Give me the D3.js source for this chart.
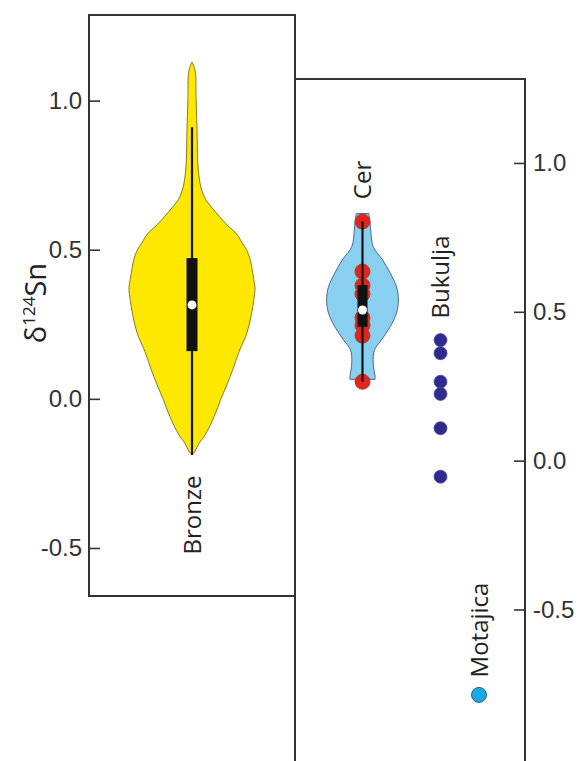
<!DOCTYPE html>
<html>
<head>
<meta charset="utf-8">
<script src="https://cdn.jsdelivr.net/npm/d3@7"></script>
<style>
  html, body { margin: 0; padding: 0; background: #ffffff; }
  svg { display: block; }
</style>
</head>
<body>
<svg id="chart" width="581" height="761"></svg>
<script>
// ---------------- DATA ----------------
const leftCategories = ["Bronze"];
const rightCategories = ["Cer", "Bukulja", "Motajica"];
const tickValues = [-0.5, 0.0, 0.5, 1.0];
const tickLabels = ["-0.5", "0.0", "0.5", "1.0"];
const axisLabel = "δ";

// violin density profiles: [δ124Sn value, relative density]
const bronzeViolin = [
  [1.13, 0], [1.10, 0.05], [1.00, 0.065], [0.90, 0.08], [0.78, 0.095], [0.72, 0.13],
  [0.69, 0.17], [0.667, 0.22], [0.64, 0.32], [0.61, 0.44], [0.58, 0.57], [0.555, 0.70],
  [0.525, 0.79], [0.498, 0.87], [0.47, 0.92], [0.44, 0.95], [0.40, 0.98], [0.374, 1.0],
  [0.33, 0.98], [0.28, 0.94], [0.22, 0.87], [0.16, 0.75], [0.10, 0.65], [0.05, 0.56],
  [0.0, 0.46], [-0.06, 0.35], [-0.12, 0.21], [-0.15, 0.11], [-0.175, 0.05], [-0.188, 0]
];
const cerViolin = [
  [0.83, 0.10], [0.80, 0.12], [0.775, 0.13], [0.719, 0.17], [0.674, 0.32], [0.63, 0.44],
  [0.584, 0.54], [0.54, 0.57], [0.496, 0.54], [0.45, 0.44], [0.405, 0.30], [0.372, 0.19],
  [0.328, 0.17], [0.282, 0.20], [0.273, 0.20]
];

// box statistics: [whiskerLow, q1, median, q3, whiskerHigh]
const bronzeBox = [-0.188, 0.160, 0.315, 0.472, 0.911];
const cerBox = [0.265, 0.450, 0.506, 0.590, 0.803];

// individual samples
const cerValues = [0.803, 0.635, 0.588, 0.560, 0.480, 0.455, 0.420, 0.265];
const bukuljaValues = [0.405, 0.361, 0.265, 0.224, 0.109, -0.054];
const motajicaValues = [-0.787];

// ---------------- LAYOUT ----------------
const svg = d3.select("#chart");
svg.append("rect").attr("width", 581).attr("height", 761).attr("fill", "#fff");

const frameColor = "#333";
const L = { left: 89, right: 295, top: 15, bottom: 596 };
const R = { left: 295, right: 525, top: 79, bottom: 761 };

const yL = d3.scaleLinear().domain([-0.661, 1.287]).range([L.bottom, L.top]);
const yR = d3.scaleLinear().domain([-1.009, 1.282]).range([R.bottom, R.top]);

const xL = d3.scalePoint().domain(leftCategories).range([L.left, L.right]).padding(0.5);
const xR = d3.scaleOrdinal().domain(rightCategories).range([362.5, 440.5, 479]);

const wScale = d3.scaleLinear().domain([0, 1]).range([0, 63]);

const tickFont = "'Liberation Sans', Arial, sans-serif";
const labelFont = "'Open Sans', 'DejaVu Sans', sans-serif";
const fmt = d => tickLabels[tickValues.indexOf(d)];

// ---- right panel frame (drawn first, left panel overlaps) ----
svg.append("path")
  .attr("d", `M${R.left},${R.bottom}V${R.top}H${R.right}V${R.bottom}`)
  .attr("fill", "none").attr("stroke", frameColor).attr("stroke-width", 2);

// ---- left panel frame ----
svg.append("rect")
  .attr("x", L.left).attr("y", L.top)
  .attr("width", L.right - L.left).attr("height", L.bottom - L.top)
  .attr("fill", "none").attr("stroke", frameColor).attr("stroke-width", 2);

// ---- axes ----
const axL = svg.append("g").attr("transform", `translate(${L.left},0)`)
  .call(d3.axisLeft(yL).tickValues(tickValues).tickFormat(fmt)
    .tickSizeInner(-11).tickSizeOuter(0).tickPadding(7));
axL.select(".domain").remove();
axL.selectAll("line").attr("stroke", frameColor).attr("stroke-width", 1.6);
axL.selectAll("text").style("font-family", tickFont).style("font-size", "24px").attr("fill", "#333");

const axR = svg.append("g").attr("transform", `translate(${R.right},0)`)
  .call(d3.axisRight(yR).tickValues(tickValues).tickFormat(fmt)
    .tickSizeInner(-11).tickSizeOuter(0).tickPadding(8));
axR.select(".domain").remove();
axR.selectAll("line").attr("stroke", frameColor).attr("stroke-width", 1.6);
axR.selectAll("text").style("font-family", tickFont).style("font-size", "24px").attr("fill", "#333");

// ---- y axis title ----
const title = svg.append("text")
  .attr("transform", `translate(46,303) rotate(-90)`)
  .attr("text-anchor", "middle")
  .style("font-family", labelFont).style("font-size", "29px").attr("fill", "#222");
title.append("tspan").text(axisLabel);
title.append("tspan").style("font-size", "17px").attr("dy", -11).text("124");
title.append("tspan").attr("dy", 11).text("Sn");

// ---- violin helper ----
function violin(profile, cx, y, fill, stroke) {
  const area = d3.area()
    .y(d => y(d[0]))
    .x0(d => cx - wScale(d[1]))
    .x1(d => cx + wScale(d[1]))
    .curve(d3.curveCatmullRom);
  svg.append("path").datum(profile).attr("d", area)
    .attr("fill", fill).attr("stroke", stroke).attr("stroke-width", 1);
}
function boxplot(stats, cx, y, boxW) {
  svg.append("line")
    .attr("x1", cx).attr("x2", cx)
    .attr("y1", y(stats[0])).attr("y2", y(stats[4]))
    .attr("stroke", "#111").attr("stroke-width", 2.2);
  svg.append("rect")
    .attr("x", cx - boxW / 2).attr("width", boxW)
    .attr("y", y(stats[3])).attr("height", y(stats[1]) - y(stats[3]))
    .attr("fill", "#111");
  svg.append("circle").attr("cx", cx).attr("cy", y(stats[2])).attr("r", 4.5)
    .attr("fill", "#fff");
}

// ---- Bronze ----
const bx = xL("Bronze");
violin(bronzeViolin, bx, yL, "#ffe800", "#857a25");
boxplot(bronzeBox, bx, yL, 11);

// ---- Cer ----
const cx = xR("Cer");
violin(cerViolin, cx, yR, "#88cff0", "#4d6b84");
svg.append("g").selectAll("circle").data(cerValues).join("circle")
  .attr("cx", cx).attr("cy", d => yR(d)).attr("r", 7.5)
  .attr("fill", "#e3241c").attr("stroke", "#a0452f").attr("stroke-width", 1);
boxplot(cerBox, cx, yR, 10);

// ---- Bukulja ----
svg.append("g").selectAll("circle").data(bukuljaValues).join("circle")
  .attr("cx", xR("Bukulja")).attr("cy", d => yR(d)).attr("r", 6.5)
  .attr("fill", "#2d2c8c").attr("stroke", "#4a49a3").attr("stroke-width", 0.8);

// ---- Motajica ----
svg.append("g").selectAll("circle").data(motajicaValues).join("circle")
  .attr("cx", xR("Motajica")).attr("cy", d => yR(d)).attr("r", 7.5)
  .attr("fill", "#18aae2").attr("stroke", "#2d5f85").attr("stroke-width", 1);

// ---- category labels ----
function catLabel(text, x, yc) {
  svg.append("text")
    .attr("transform", `translate(${x},${yc}) rotate(-90)`)
    .attr("text-anchor", "middle").attr("dy", "0.36em")
    .style("font-family", labelFont).style("font-size", "24px").attr("fill", "#222")
    .text(text);
}
catLabel("Bronze", bx, 515);
catLabel("Cer", cx, 180);
catLabel("Bukulja", xR("Bukulja"), 277);
catLabel("Motajica", xR("Motajica"), 630);
</script>
</body>
</html>
